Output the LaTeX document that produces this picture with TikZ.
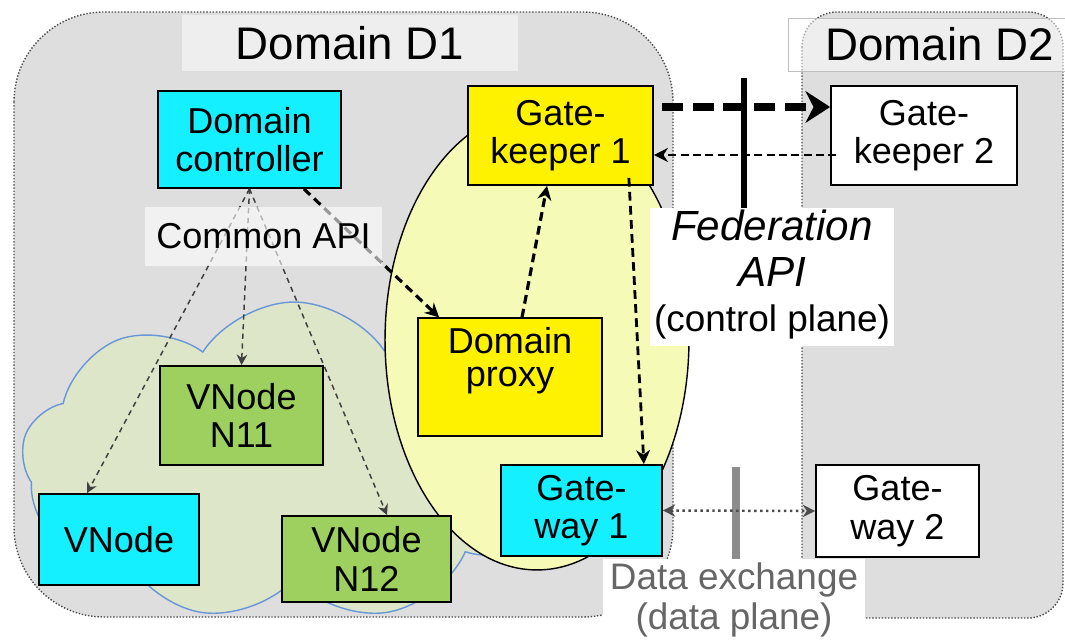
\documentclass[tikz,border=0pt]{standalone}
\usepackage{fontspec}
\setmainfont{Liberation Sans}
\usetikzlibrary{arrows.meta,shapes.symbols}
\definecolor{domaingray}{RGB}{222,222,222}
\definecolor{boxcyan}{RGB}{20,240,255}
\definecolor{boxgreen}{RGB}{158,208,96}
\definecolor{paleyellow}{RGB}{246,250,183}
\definecolor{cloudgreen}{RGB}{222,230,201}
\definecolor{cloudblue}{RGB}{104,150,214}
\begin{document}
\begin{tikzpicture}[x=0.02cm, y=-0.02cm,
    box/.style={draw=black, line width=1pt, align=center, inner sep=0pt, font=\fontsize{20.5pt}{22pt}\selectfont},
    domainbox/.style={fill=domaingray, draw=black!70, densely dotted, line width=0.8pt},
    tag/.style={fill=white, fill opacity=0.5, text opacity=1, inner sep=0pt, font=\fontsize{26pt}{30pt}\selectfont},
    call/.style={draw=black!75, line width=0.85pt, dash pattern=on 3pt off 2.5pt, -{Stealth[length=6pt,width=6pt]}},
    bigcall/.style={line width=1.8pt, dash pattern=on 5pt off 3pt, -{Stealth[length=8pt,width=8pt]}}]
            \useasboundingbox (0,0) rectangle (1065,641);
            % the two domains
            \draw[domainbox, rounded corners=1.8cm] (14,12) rectangle (673,617);
            \draw[domainbox, rounded corners=0.7cm] (802,12) rectangle (1063,618);
            \node[cloud, cloud puffs=9, cloud puff arc=115, cloud ignores aspect, draw=cloudblue, fill=cloudgreen, line width=0.8pt, minimum width=10.9cm, minimum height=6.4cm] (vnet) at (294,462) {};
            \draw[fill=paleyellow, line width=0.8pt] (537,340) ellipse [x radius=3.04cm, y radius=4.6cm];
            % boxes
            \node[box, fill=boxcyan, minimum width=3.66cm, minimum height=1.94cm] (controller) at (249.5,139.5) {Domain\\controller};
            \node[box, fill=yellow, minimum width=3.7cm, minimum height=1.98cm] (keeper1) at (560.5,135.5) {Gate-\\keeper 1};
            \node[box, fill=white, minimum width=3.72cm, minimum height=1.98cm] (keeper2) at (924,135.5) {Gate-\\keeper 2};
            \node[box, fill=yellow, minimum width=3.68cm, text height=39pt, text depth=27.8pt] (proxy) at (510,377) {\renewcommand\arraystretch{0.85}\begin{tabular}[b]{@{}c@{}}Domain\\proxy\end{tabular}};
            \node[box, fill=boxcyan, minimum width=3.2cm, minimum height=1.82cm] (vnode) at (119,539.5) {VNode};
            \node[box, fill=boxgreen, minimum width=3.26cm, minimum height=1.98cm] (n11) at (241.5,415.5) {VNode\\N11};
            \node[box, fill=boxgreen, minimum width=3.38cm, minimum height=1.72cm] (n12) at (366.5,559) {VNode\\N12};
            \node[box, fill=boxcyan, minimum width=3.22cm, minimum height=1.82cm] (gateway1) at (581.5,510.5) {Gate-\\way 1};
            \node[box, fill=white, minimum width=3.26cm, minimum height=1.84cm] (gateway2) at (897.5,511) {Gate-\\way 2};
            \node[tag, minimum width=6.72cm, minimum height=1.12cm] (d1tag) at (350,43) {Domain D1};
            \node[tag, draw=black!25, minimum width=5.54cm, minimum height=1.06cm] (d2tag) at (926.5,44.5) {\hspace*{0.52cm}Domain D2};
            % common API
            \draw[call] (controller.south) -- ([xshift=-0.64cm]vnode.north);
            \draw[call] (controller.south) -- (n11.north);
            \draw[call] (controller.south) -- ([xshift=0.41cm]n12.north);
            \draw[bigcall] ([xshift=-0.76cm]controller.south east) -- ([xshift=0.44cm]proxy.north west);
            \draw[bigcall] ([xshift=0.24cm]proxy.north) -- ([xshift=-0.27cm]keeper1.south);
            \draw[bigcall, line width=1.6pt] ([xshift=-0.5cm,yshift=0.16cm]keeper1.south east) -- ([xshift=-0.38cm]gateway1.north east);
            \node[tag, fill opacity=0.6, font=\fontsize{20.5pt}{22pt}\selectfont, minimum width=4.74cm, minimum height=1.18cm] (apitag) at (263.5,236.5) {Common API};
            % federation API
            \draw[line width=3.5pt] (744,78) -- (744,214);
            \draw[line width=4pt, dash pattern=on 12pt off 5.5pt, -{Stealth[length=14pt,width=18pt]}] ([xshift=0.16cm,yshift=0.57cm]keeper1.east) -- ([yshift=0.57cm]keeper2.west);
            \draw[line width=1.4pt, dash pattern=on 4.5pt off 2.5pt, -{Stealth[length=8pt,width=8pt]}] ([xshift=0.12cm,yshift=-0.39cm]keeper2.west) -- ([yshift=-0.39cm]keeper1.east);
            \node[fill=white, inner sep=0pt, minimum width=4.88cm, minimum height=2.76cm, font=\fontsize{24pt}{26pt}\selectfont] (fedtag) at (772,277) {\begin{tabular}{@{}c@{}}\itshape Federation\\\itshape API\\\fontsize{21pt}{25pt}\selectfont (control plane)\end{tabular}};
            % data exchange
            \draw[black!45, line width=4.5pt] (736,467) -- (736,559);
            \draw[black!70, line width=1.4pt, dotted, {Stealth[length=7pt,width=7pt]}-{Stealth[length=7pt,width=7pt]}] (gateway1.east) -- (gateway2.west);
            \node[fill=white, inner sep=0pt, minimum width=5.24cm, minimum height=1.64cm, align=center, text=black!60, font=\fontsize{21pt}{22.7pt}\selectfont] (datatag) at (734,600) {Data exchange\\(data plane)};
            \end{tikzpicture}
\end{document}
